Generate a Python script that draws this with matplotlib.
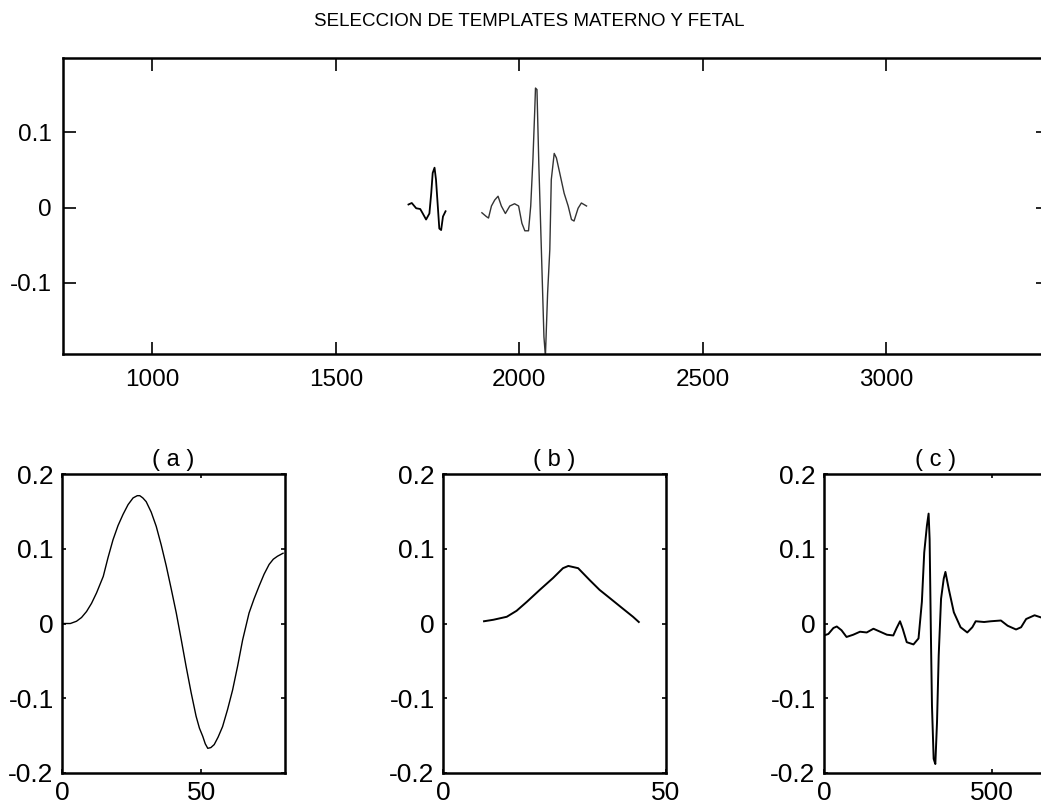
import matplotlib
matplotlib.use('Agg')
import matplotlib.pyplot as plt

plt.rcParams['font.family'] = ['Liberation Sans', 'DejaVu Sans']

# top panel: ECG segment with the selected templates (two pieces)
top_x1 = [1698, 1707, 1719, 1730, 1737, 1746, 1755, 1760, 1764, 1769, 1773, 1778, 1782, 1787, 1792, 1799]
top_y1 = [0.004, 0.006, -0.001, -0.002, -0.008, -0.016, -0.008, 0.019, 0.046, 0.053, 0.037, 0.001, -0.028, -0.030, -0.012, -0.005]

top_x2 = [1898, 1910, 1916, 1924, 1933, 1942, 1951, 1962, 1974, 1987, 1998, 2007, 2015, 2025, 2031, 2037,
          2042, 2044, 2048, 2053, 2060, 2067, 2071, 2077, 2083, 2087, 2095, 2101, 2110, 2122, 2133, 2142, 2149,
          2160, 2169, 2183]
top_y2 = [-0.007, -0.012, -0.014, 0.002, 0.010, 0.015, 0.002, -0.008, 0.002, 0.005, 0.002, -0.021, -0.031, -0.031, 0.002, 0.064,
          0.130, 0.159, 0.157, 0.059, -0.056, -0.172, -0.198, -0.114, -0.056, 0.037, 0.072, 0.066, 0.046, 0.019, 0.002, -0.016, -0.018,
          -0.001, 0.006, 0.002]

# (a) template
a_x = [0.5, 3.0, 5.2, 7.0, 8.8, 10.6, 12.4, 14.8, 16.5, 18.3, 20.1, 21.9, 23.7, 25.5, 27.0, 27.9, 29.0, 30.2, 32.0, 33.8,
       35.6, 37.4, 39.2, 41.0, 42.8, 44.5, 46.3, 48.1, 49.3, 50.5, 51.4, 52.3, 53.4, 54.6, 56.0, 57.6, 59.4, 61.2, 63.0,
       64.8, 67.1, 68.9, 70.7, 72.5, 74.3, 75.8, 77.3, 79.3]
a_y = [0.000, 0.000, 0.003, 0.008, 0.016, 0.027, 0.041, 0.063, 0.088, 0.112, 0.131, 0.146, 0.159, 0.168, 0.171, 0.171,
       0.168, 0.163, 0.149, 0.130, 0.105, 0.077, 0.046, 0.014, -0.022, -0.057, -0.092, -0.124, -0.140, -0.151, -0.161,
       -0.167, -0.166, -0.162, -0.152, -0.138, -0.115, -0.089, -0.057, -0.022, 0.014, 0.033, 0.050, 0.066, 0.079, 0.086,
       0.090, 0.094]

# (b) template
b_x = [9.2, 11.3, 14.3, 16.5, 18.8, 21.7, 24.7, 26.9, 28.1, 30.3, 32.9, 35.1, 37.4, 40.3, 42.6, 43.9]
b_y = [0.003, 0.005, 0.009, 0.017, 0.029, 0.045, 0.061, 0.074, 0.077, 0.074, 0.058, 0.045, 0.034, 0.020, 0.009, 0.002]

# (c) template
c_x = [0, 13, 28, 38, 52, 67, 87, 107, 127, 147, 167, 187, 206, 216, 226, 234, 246, 266, 281, 291, 298, 306, 311, 314,
       318, 321, 326, 331, 336, 341, 348, 356, 361, 371, 386, 406, 426, 441, 451, 476, 496, 526, 546, 571, 586, 601,
       626, 646, 663]
c_y = [-0.016, -0.014, -0.006, -0.004, -0.009, -0.018, -0.015, -0.011, -0.012, -0.007, -0.011, -0.015, -0.016, -0.006,
       0.003, -0.007, -0.025, -0.028, -0.020, 0.029, 0.095, 0.131, 0.147, 0.113, -0.020, -0.110, -0.181, -0.188, -0.132,
       -0.043, 0.033, 0.060, 0.069, 0.046, 0.015, -0.005, -0.012, -0.005, 0.003, 0.002, 0.003, 0.004, -0.003, -0.008,
       -0.005, 0.006, 0.011, 0.008, 0.010]

W, H = 1041, 808
fig = plt.figure(figsize=(W / 100, H / 100), dpi=100)


def box(left, top, right, bottom):
    # pixel box -> figure fraction
    return [left / W, 1 - bottom / H, (right - left) / W, (bottom - top) / H]


def style(ax, ticklen, size, xpad, ypad):
    for s in ax.spines.values():
        s.set_linewidth(1.8)
    ax.tick_params(direction='in', top=True, right=True, length=ticklen, width=1.2,
                   labelsize=size)
    ax.tick_params(axis='x', pad=xpad)
    ax.tick_params(axis='y', pad=ypad)


# top panel
ax = fig.add_axes(box(63, 58, 1048, 354))
ax.plot(top_x1, top_y1, color='black', lw=1.3)
ax.plot(top_x2, top_y2, color='#333333', lw=1.0)
ax.set_xlim(757, 3440)
ax.set_ylim(-0.195, 0.199)
ax.set_xticks([1000, 1500, 2000, 2500, 3000])
ax.set_yticks([-0.1, 0, 0.1])
ax.set_yticklabels(['-0.1', '0', '0.1'])
style(ax, 9, 17.5, 11, 8)
fig.text(529 / W, 1 - 26 / H, 'SELECCION DE TEMPLATES MATERNO Y FETAL',
         ha='center', va='baseline', fontsize=13.5)

# bottom panels
panels = [
    (62, a_x, a_y, 80, [0, 50], '( a )', 1.0),
    (443, b_x, b_y, 50, [0, 50], '( b )', 1.4),
    (824, c_x, c_y, 663, [0, 500], '( c )', 1.4),
]
for left, xs, ys, xmax, xt, name, lw in panels:
    ax = fig.add_axes(box(left, 474, left + 223, 773))
    ax.plot(xs, ys, color='black', lw=lw)
    ax.set_xlim(0, xmax)
    ax.set_ylim(-0.2, 0.2)
    ax.set_xticks(xt)
    ax.set_yticks([-0.2, -0.1, 0, 0.1, 0.2])
    ax.set_yticklabels(['-0.2', '-0.1', '0', '0.1', '0.2'])
    style(ax, 3, 19, 6, 6)
    ax.set_title(name, fontsize=17, pad=6)

fig.savefig('out.png', dpi=100)
